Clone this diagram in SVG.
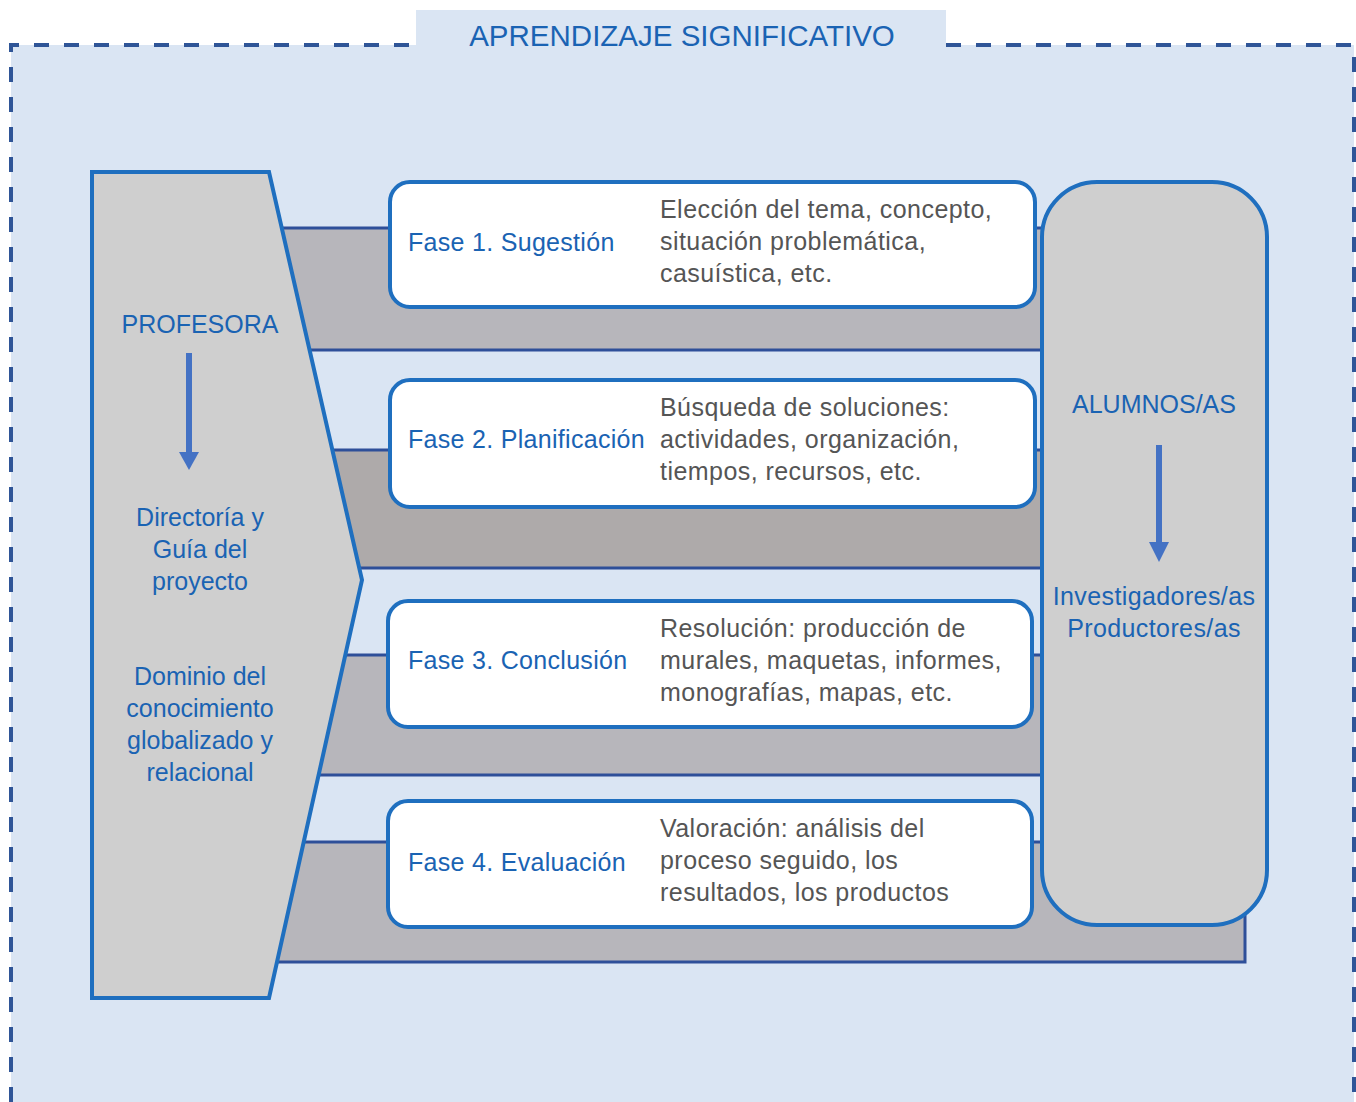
<svg xmlns="http://www.w3.org/2000/svg" width="1356" height="1102" viewBox="0 0 1356 1102">
<style>
.t{font-family:"Liberation Sans",Arial,sans-serif;fill:#1a63b3}
.d{font-family:"Liberation Sans",Arial,sans-serif;fill:#555555;font-size:25px;letter-spacing:0.45px}
.ph{font-size:25px;letter-spacing:0.3px}
.lbl{font-size:25px;text-anchor:middle}
.band{stroke:#2e4f99;stroke-width:3}
.box{fill:#ffffff;stroke:#1f6fbf;stroke-width:4}
.dash{fill:none;stroke:#2f5597;stroke-width:4;stroke-dasharray:15 15}
.arr{stroke:#4472c4;stroke-width:6}
</style>
<rect x="0" y="0" width="1356" height="1102" fill="#ffffff"/>
<g id="frame">
<rect x="11" y="45" width="1343" height="1057" fill="#dae5f3"/>
<rect x="416" y="10" width="530" height="36" fill="#dae5f3"/>
<path class="dash" d="M11 1102 L11 45 L416 45"/>
<path class="dash" d="M946 45 L1354 45 L1354 1102"/>
<text class="t" x="682" y="46" font-size="29.5" text-anchor="middle">APRENDIZAJE SIGNIFICATIVO</text>
</g>
<g id="connectors">
<rect class="band" x="200" y="228" width="850" height="122" fill="#b7b6bb"/>
<rect class="band" x="200" y="450" width="850" height="118" fill="#aeaaaa"/>
<rect class="band" x="200" y="655" width="850" height="120" fill="#b7b6bb"/>
<rect class="band" x="200" y="842" width="1045" height="120" fill="#b7b6bb"/>
</g>
<g id="profesora">
<polygon points="92,172 269,172 362,580 269,998 92,998" fill="#cfcfcf" stroke="#1f6fbf" stroke-width="4"/>
<text class="t lbl" x="200" y="333">PROFESORA</text>
<line class="arr" x1="189" y1="353" x2="189" y2="455"/>
<polygon points="179,452 199,452 189,470" fill="#4472c4"/>
<text class="t lbl" x="200" y="526">Directoría y</text>
<text class="t lbl" x="200" y="558">Guía del</text>
<text class="t lbl" x="200" y="590">proyecto</text>
<text class="t lbl" x="200" y="685">Dominio del</text>
<text class="t lbl" x="200" y="717">conocimiento</text>
<text class="t lbl" x="200" y="749">globalizado y</text>
<text class="t lbl" x="200" y="781">relacional</text>
</g>
<g id="alumnos">
<rect x="1042" y="182" width="225" height="743" rx="55" ry="55" fill="#cfcfcf" stroke="#1f6fbf" stroke-width="4"/>
<text class="t lbl" x="1154" y="413">ALUMNOS/AS</text>
<line class="arr" x1="1159" y1="445" x2="1159" y2="545"/>
<polygon points="1149,542 1169,542 1159,562" fill="#4472c4"/>
<text class="t lbl" x="1154" y="605" letter-spacing="0.4">Investigadores/as</text>
<text class="t lbl" x="1154" y="637" letter-spacing="0.4">Productores/as</text>
</g>
<g id="fase1">
<rect class="box" x="390" y="182" width="645" height="125" rx="20" ry="20"/>
<text class="t ph" x="408" y="251">Fase 1. Sugestión</text>
<text class="d" x="660" y="218">Elección del tema, concepto,</text>
<text class="d" x="660" y="250">situación problemática,</text>
<text class="d" x="660" y="282">casuística, etc.</text>
</g>
<g id="fase2">
<rect class="box" x="390" y="380" width="645" height="127" rx="20" ry="20"/>
<text class="t ph" x="408" y="448">Fase 2. Planificación</text>
<text class="d" x="660" y="416">Búsqueda de soluciones:</text>
<text class="d" x="660" y="448">actividades, organización,</text>
<text class="d" x="660" y="480">tiempos, recursos, etc.</text>
</g>
<g id="fase3">
<rect class="box" x="388" y="601" width="644" height="126" rx="20" ry="20"/>
<text class="t ph" x="408" y="669">Fase 3. Conclusión</text>
<text class="d" x="660" y="637">Resolución: producción de</text>
<text class="d" x="660" y="669">murales, maquetas, informes,</text>
<text class="d" x="660" y="701">monografías, mapas, etc.</text>
</g>
<g id="fase4">
<rect class="box" x="388" y="801" width="644" height="126" rx="20" ry="20"/>
<text class="t ph" x="408" y="871">Fase 4. Evaluación</text>
<text class="d" x="660" y="837">Valoración: análisis del</text>
<text class="d" x="660" y="869">proceso seguido, los</text>
<text class="d" x="660" y="901">resultados, los productos</text>
</g>
</svg>
